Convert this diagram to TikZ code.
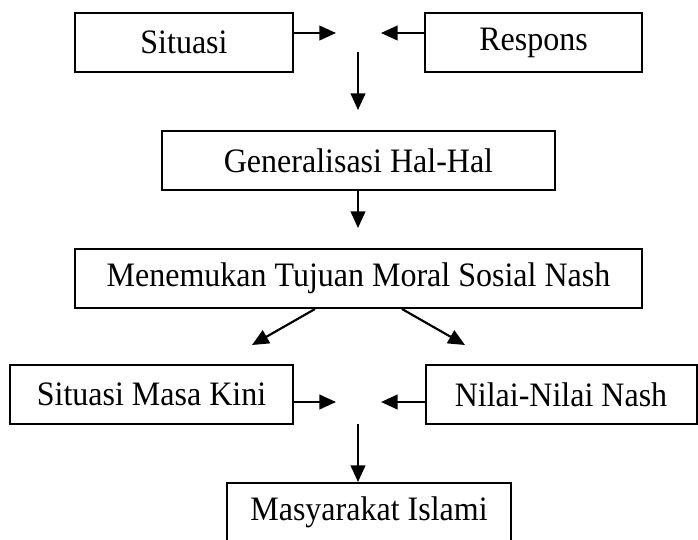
\documentclass[tikz,border=0pt]{standalone}
\usepackage{fontspec}
\usepackage{graphicx}
\setmainfont{Liberation Serif}
\usetikzlibrary{arrows.meta,calc}
\newcommand{\tallt}[1]{\scalebox{1}[1.07]{#1}}
\begin{document}
\begin{tikzpicture}[x=0.75pt,y=-0.75pt,
  box/.style={draw=black,line width=1.5pt,fill=white,inner sep=0pt,minimum height=59*0.75pt,
    font=\fontsize{24}{29}\selectfont},
  arr/.style={line width=1.6pt,-{Triangle[length=12.5pt,width=11pt]}}]
\useasboundingbox[fill=white] (0,0) rectangle (698,539);
% nodes
\node[box,minimum width=218*0.75pt] (sit) at (184,42.5) {\tallt{Situasi}};
\node[box,minimum width=217*0.75pt] (resp) at (533.5,42.5) {\tallt{Respons}};
\node[box,minimum width=393*0.75pt] (gen) at (358.5,160.5) {\tallt{Generalisasi Hal-Hal}};
\node[box,minimum width=567*0.75pt] (men) at (358.5,278.5) {\tallt{Menemukan Tujuan Moral Sosial Nash}};
\node[box,minimum width=283*0.75pt] (smk) at (151.5,394.5) {\tallt{Situasi Masa Kini}};
\node[box,minimum width=271*0.75pt] (nil) at (561,394.5) {\tallt{Nilai-Nilai Nash}};
\node[box,minimum width=284*0.75pt] (mas) at (369,512.5) {\tallt{Masyarakat Islami}};
% free ends
\coordinate (m1a) at (336,33);
\coordinate (m1b) at (381,33);
\coordinate (d1s) at (358,52);
\coordinate (d1e) at (358,110);
\coordinate (d2e) at (358,228);
\coordinate (dl) at (252,345);
\coordinate (dr) at (465,345);
\coordinate (m2a) at (336,402);
\coordinate (m2b) at (381,402);
\coordinate (d3s) at (358,424);
% connectors
\draw[arr] (sit.east |- m1a) -- (m1a);
\draw[arr] (resp.west |- m1b) -- (m1b);
\draw[arr] (d1s) -- (d1e);
\draw[arr] (d2e |- gen.south) -- (d2e);
\draw[arr] ($(men.south)+(-43.5,0)$) -- (dl);
\draw[arr] ($(men.south)+(43.5,0)$) -- (dr);
\draw[arr] (smk.east |- m2a) -- (m2a);
\draw[arr] (nil.west |- m2b) -- (m2b);
\draw[arr] (d3s) -- (d3s |- mas.north);
\end{tikzpicture}
\end{document}
